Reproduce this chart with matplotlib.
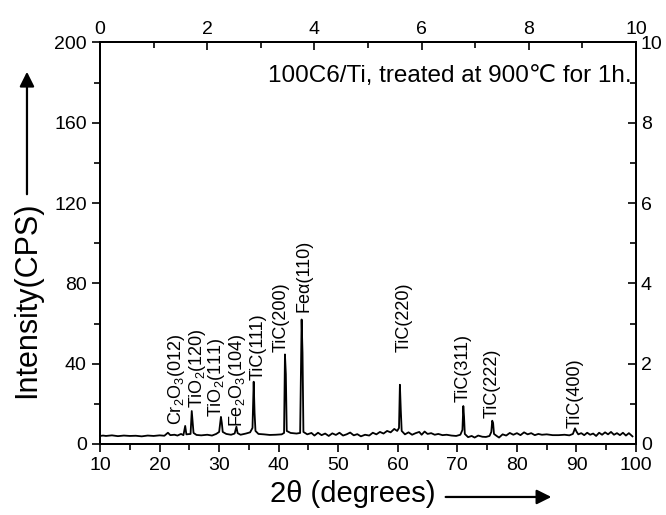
import matplotlib
matplotlib.use('Agg')
import matplotlib.pyplot as plt
import numpy as np

plt.rcParams['font.family'] = ['Liberation Sans', 'DejaVu Sans']
plt.rcParams['mathtext.fontset'] = 'custom'
plt.rcParams['mathtext.rm'] = 'Liberation Sans'
plt.rcParams['mathtext.it'] = 'Liberation Sans'

# XRD pattern (2theta in degrees, intensity in CPS)
two_theta = [10.0, 10.5, 11.0, 12.0, 13.0, 14.0, 15.0, 16.0, 17.0, 18.0, 19.0, 20.0, 20.8, 21.4, 21.8, 22.5, 23.0, 23.6, 24.0,
             24.3, 24.5, 25.2, 25.4, 25.55, 25.7, 26.2, 27.0, 28.0, 28.8, 29.5, 30.0, 30.3, 30.45, 30.6, 31.2, 32.0, 32.6,
             32.9, 33.1, 33.6, 34.5, 35.2, 35.6, 35.8, 35.95, 36.1, 36.6, 37.5, 38.5, 39.5, 40.5, 40.9, 41.05, 41.2, 41.35,
             42.0, 43.0, 43.6, 43.85, 44.0, 44.15, 44.8, 45.5, 46.0, 46.6, 47.2, 47.8, 48.4, 49.0, 49.6, 50.2, 50.8, 51.4,
             52.0, 52.6, 53.2, 53.8, 54.5, 55.2, 55.8, 56.4, 57.0, 57.6, 58.2, 58.8, 59.4, 59.9, 60.2, 60.35, 60.5, 60.65,
             61.2, 61.8, 62.4, 63.0, 63.6, 64.0, 64.5, 65.0, 65.6, 66.2, 66.8, 67.5, 68.2, 69.0, 69.8, 70.5, 70.85, 71.0,
             71.12, 71.25, 71.8, 72.4, 72.9, 73.5, 74.2, 74.8, 75.4, 75.7, 75.85, 76.0, 76.15, 76.6, 77.0, 77.6, 78.2, 78.8,
             79.4, 80.0, 80.6, 81.2, 81.8, 82.4, 83.0, 83.6, 84.2, 85.0, 86.0, 87.0, 88.0, 88.8, 89.4, 89.75, 90.0, 90.3,
             90.8, 91.3, 91.8, 92.3, 92.8, 93.3, 93.8, 94.3, 94.8, 95.3, 95.8, 96.3, 96.8, 97.3, 97.8, 98.3, 98.8, 99.4]
intensity = [4.0, 4.2, 4.0, 4.3, 3.9, 4.2, 4.0, 4.1, 3.8, 4.2, 4.0, 4.3, 4.1, 5.6, 4.4, 4.6, 4.2, 5.0, 4.4,
             9.0, 4.8, 5.0, 16.4, 11.0, 5.5, 4.5, 4.3, 4.6, 4.2, 5.0, 6.0, 13.5, 10.5, 6.0, 5.0, 4.6, 5.2,
             8.6, 5.4, 4.6, 5.2, 5.8, 8.0, 31.0, 15.4, 6.5, 5.0, 4.8, 4.5, 4.6, 4.8, 5.5, 44.6, 34.8, 6.5,
             5.5, 5.2, 5.5, 62.0, 45.4, 6.0, 4.8, 5.5, 4.2, 5.6, 4.4, 5.2, 4.0, 5.3, 4.5, 5.6, 4.2, 4.8,
             5.7, 4.3, 4.9, 3.8, 4.6, 4.2, 5.6, 4.8, 6.0, 5.2, 6.5, 5.8, 7.5, 6.5, 8.0, 29.5, 17.0, 6.5,
             4.8, 5.8, 4.6, 5.4, 6.0, 4.6, 6.2, 5.0, 5.4, 4.6, 5.0, 4.4, 4.6, 4.2, 4.0, 4.6, 7.0, 18.9,
             13.6, 5.0, 3.4, 4.0, 3.2, 4.2, 3.6, 3.5, 4.0, 6.0, 11.6, 10.5, 5.0, 4.0, 3.2, 4.8, 4.2, 5.5,
             4.6, 5.4, 4.4, 5.8, 4.8, 5.4, 4.4, 5.0, 4.6, 4.8, 4.4, 4.4, 4.6, 4.3, 5.0, 7.8, 6.2, 4.8,
             5.4, 4.4, 5.6, 4.6, 5.2, 4.0, 5.6, 4.6, 5.8, 4.8, 6.0, 4.6, 5.4, 4.4, 5.6, 4.2, 5.4, 3.8]

# peak labels: text, x centre, bottom of text (data units)
peak_names = ['Cr$_2$O$_3$(012)', 'TiO$_2$(120)', 'TiO$_2$(111)', 'Fe$_2$O$_3$(104)', 'TiC(111)', 'TiC(200)',
              'Feα(110)', 'TiC(220)', 'TiC(311)', 'TiC(222)', 'TiC(400)']
peak_x = [22.9, 26.3, 29.6, 33.0, 36.5, 40.4, 44.3, 61.0, 70.9, 75.8, 89.75]
peak_y = [9.5, 17.9, 13.4, 8.5, 31.8, 45.8, 65.7, 45.8, 20.9, 12.9, 8.0]

fig = plt.figure(figsize=(6.66, 5.15), dpi=100)
ax = fig.add_axes([0.1502, 0.1379, 0.8048, 0.7796])
ax.plot(two_theta, intensity, color='black', lw=1.3)

ax.set_xlim(10, 100)
ax.set_ylim(0, 200)
ax.set_xticks(np.arange(10, 101, 10))
ax.set_xticks(np.arange(15, 100, 10), minor=True)
ax.set_yticks(np.arange(0, 201, 40))
ax.set_yticks(np.arange(20, 200, 40), minor=True)
ax.tick_params(which='both', direction='out', labelsize=14, width=1.2)
ax.tick_params(which='major', length=6)
ax.tick_params(which='minor', length=4)

# top and right axes (0-10)
axt = ax.twiny()
axt.set_xlim(0, 10)
axt.set_xticks(np.arange(0, 11, 2))
axt.set_xticks(np.arange(1, 10, 2), minor=True)
axr = ax.twinx()
axr.set_ylim(0, 10)
axr.set_yticks(np.arange(0, 11, 2))
axr.set_yticks(np.arange(1, 10, 2), minor=True)
for a in (axt, axr):
    a.tick_params(which='both', direction='in', labelsize=14, width=1.2)
    a.tick_params(which='major', length=6)
    a.tick_params(which='minor', length=4)

for a in (ax, axt, axr):
    for s in a.spines.values():
        s.set_linewidth(1.3)

for name, px, py in zip(peak_names, peak_x, peak_y):
    ax.text(px, py, name, rotation=90, ha='center', va='bottom', fontsize=13)

ax.text(99.3, 183.5, '100C6/Ti, treated at 900\u2103 for 1h.', ha='right', va='center', fontsize=17.5)

# axis titles with arrows
fig.text(0.0405, 0.4175, 'Intensity(CPS)', rotation=90, ha='center', va='center', fontsize=22)
fig.text(0.530, 0.040, '2θ (degrees)', ha='center', va='center', fontsize=21)
ax.annotate('', xy=(0.0405, 0.866), xytext=(0.0405, 0.6175), xycoords='figure fraction',
            arrowprops=dict(arrowstyle='-|>', color='black', lw=1.6, mutation_scale=22))
ax.annotate('', xy=(0.832, 0.035), xytext=(0.665, 0.035), xycoords='figure fraction',
            arrowprops=dict(arrowstyle='-|>', color='black', lw=1.6, mutation_scale=22))

plt.savefig('out.png', dpi=100)
